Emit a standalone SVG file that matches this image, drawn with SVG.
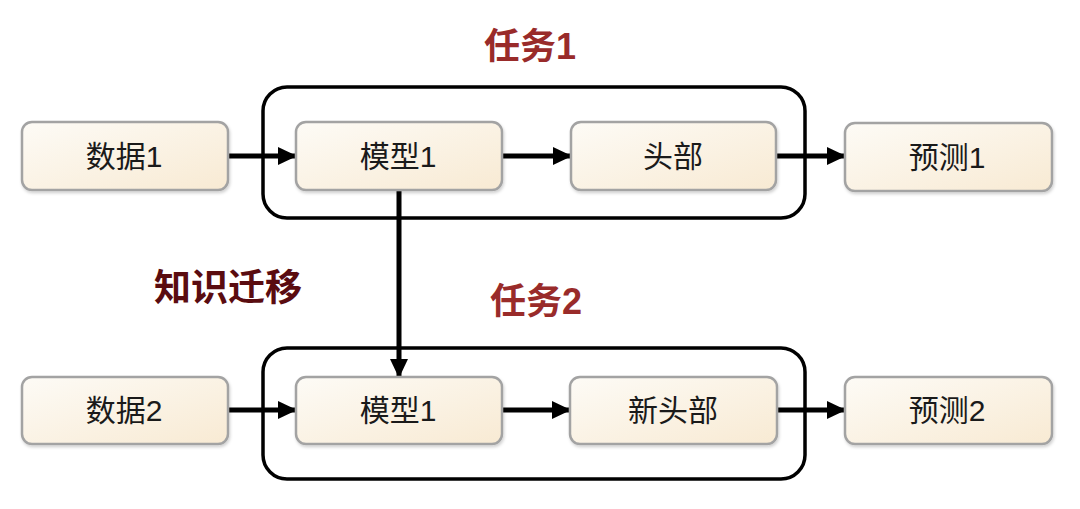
<svg xmlns="http://www.w3.org/2000/svg" width="1080" height="509" viewBox="0 0 1080 509">
<defs>
<linearGradient id="bg" x1="0" y1="0" x2="1" y2="1">
<stop offset="0" stop-color="#fdfbf6"/>
<stop offset="1" stop-color="#f8ead3"/>
</linearGradient>
<filter id="sh" x="-10%" y="-20%" width="130%" height="150%">
<feDropShadow dx="1" dy="2" stdDeviation="1.5" flood-color="#000" flood-opacity="0.18"/>
</filter>
<marker id="ah" markerWidth="19" markerHeight="18" refX="18" refY="9" orient="auto" markerUnits="userSpaceOnUse">
<path d="M0,0 L19,9 L0,18 Z" fill="#000"/>
</marker>
</defs>
<style>
.box{fill:url(#bg);stroke:#a3a3a3;stroke-width:2.5;filter:url(#sh)}
.grp{fill:none;stroke:#000;stroke-width:3.5}
.t{font-family:"Liberation Sans","Noto Sans CJK SC",sans-serif;font-size:30px;fill:#1a1a1a;text-anchor:middle}
.title{font-family:"Liberation Sans","Noto Sans CJK SC",sans-serif;font-size:36px;font-weight:bold;fill:#992b2a;text-anchor:middle}
.kt{font-family:"Noto Sans CJK SC","Noto Sans",sans-serif;font-size:37px;font-weight:bold;fill:#5a0c10;text-anchor:middle}
.c{stroke:#000;stroke-width:5;fill:none;marker-end:url(#ah)}
</style>
<rect width="1080" height="509" fill="#fff"/>
<g id="task1">
<rect class="grp" x="263" y="87" width="542" height="131" rx="24"/>
<text class="title" x="530" y="59">任务1</text>
</g>
<g id="task2">
<rect class="grp" x="263" y="348" width="542" height="131" rx="24"/>
<text class="title" x="536" y="314">任务2</text>
</g>
<g id="label-transfer">
<text class="kt" x="228" y="301">知识迁移</text>
</g>
<g id="connectors">
<line class="c" x1="228" y1="156" x2="296" y2="156"/>
<line class="c" x1="502" y1="156" x2="571" y2="156"/>
<line class="c" x1="776" y1="156" x2="845" y2="156"/>
<line class="c" x1="228" y1="410" x2="296" y2="410"/>
<line class="c" x1="502" y1="410" x2="570" y2="410"/>
<line class="c" x1="777" y1="410" x2="845" y2="410"/>
<line class="c" x1="399" y1="190" x2="399" y2="377"/>
</g>
<g id="data1"><rect class="box" x="22" y="122" width="206" height="68" rx="10"/><text class="t" x="124" y="167">数据1</text></g>
<g id="model1"><rect class="box" x="296" y="122" width="206" height="68" rx="10"/><text class="t" x="398" y="167">模型1</text></g>
<g id="head"><rect class="box" x="571" y="122" width="205" height="68" rx="10"/><text class="t" x="673" y="167">头部</text></g>
<g id="pred1"><rect class="box" x="845" y="123" width="207" height="68" rx="10"/><text class="t" x="947" y="168">预测1</text></g>
<g id="data2"><rect class="box" x="22" y="377" width="206" height="67" rx="10"/><text class="t" x="124" y="421">数据2</text></g>
<g id="model1b"><rect class="box" x="296" y="377" width="206" height="67" rx="10"/><text class="t" x="398" y="421">模型1</text></g>
<g id="newhead"><rect class="box" x="570" y="377" width="207" height="67" rx="10"/><text class="t" x="673" y="421">新头部</text></g>
<g id="pred2"><rect class="box" x="845" y="377" width="207" height="67" rx="10"/><text class="t" x="947" y="421">预测2</text></g>
</svg>
